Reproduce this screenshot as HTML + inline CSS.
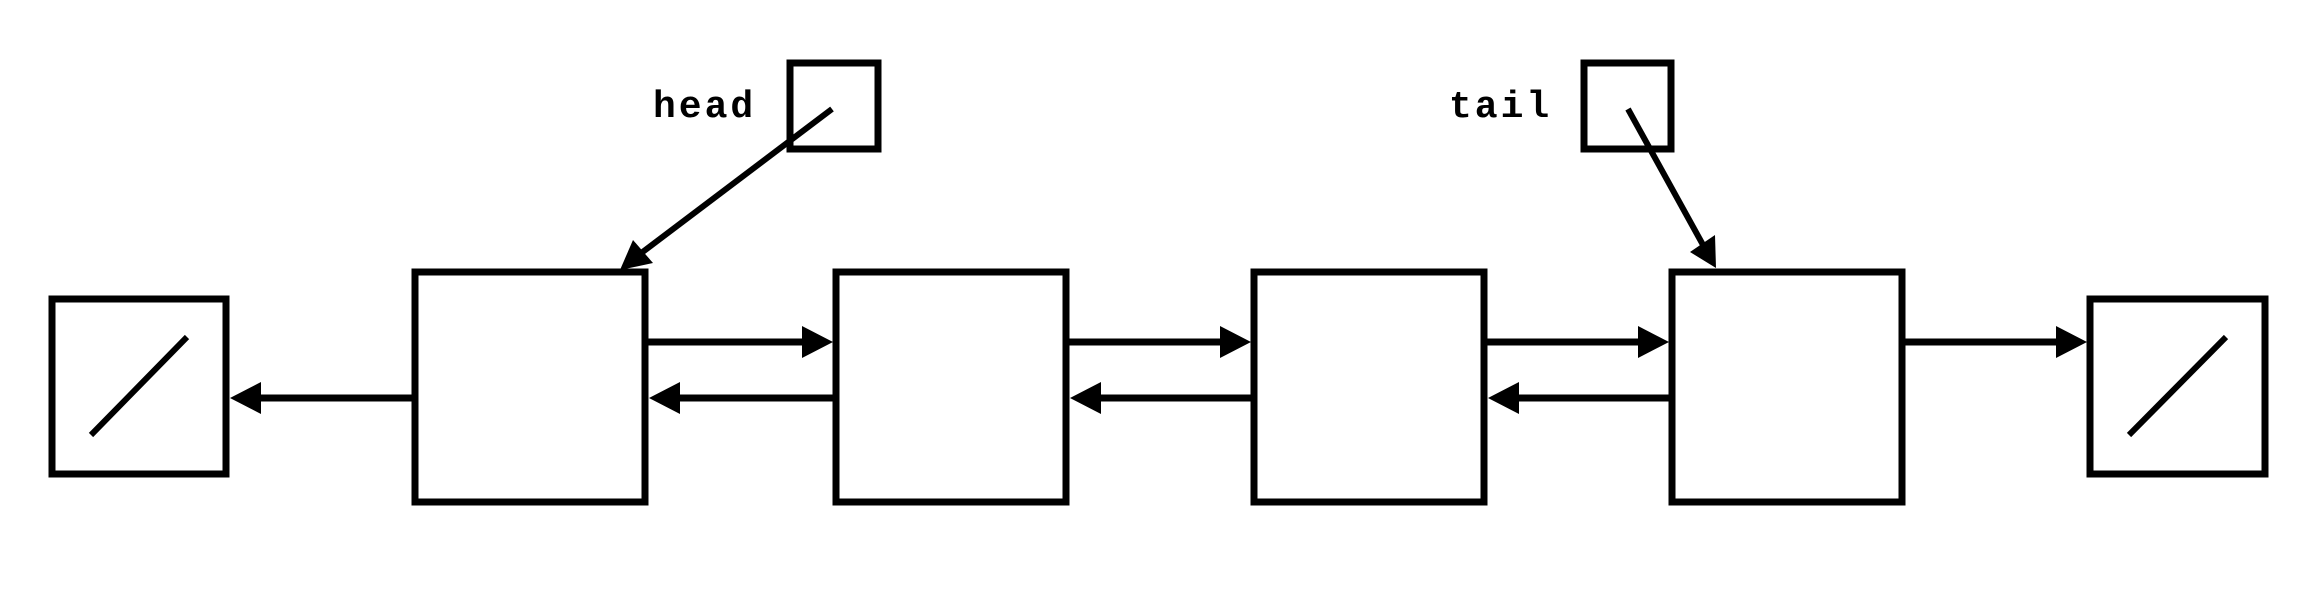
<!DOCTYPE html>
<html><head><style>body{margin:0;background:#fff}svg{display:block}</style></head>
<body>
<svg width="2324" height="602" xmlns="http://www.w3.org/2000/svg">
<g fill="none" stroke="#000" stroke-width="7">
<rect x="52" y="299" width="174" height="175"/>
<rect x="415" y="272" width="230" height="230"/>
<rect x="836" y="272" width="230" height="230"/>
<rect x="1254" y="272" width="230" height="230"/>
<rect x="1672" y="272" width="230" height="230"/>
<rect x="2090" y="299" width="175" height="175"/>
<rect x="790" y="63" width="88" height="86"/>
<rect x="1584" y="63" width="87" height="86"/>
<line x1="91" y1="435" x2="187" y2="337" stroke-width="6"/>
<line x1="2129" y1="435" x2="2226" y2="337" stroke-width="6"/>
<line x1="645" y1="342" x2="810" y2="342"/>
<line x1="1066" y1="342" x2="1230" y2="342"/>
<line x1="1484" y1="342" x2="1648" y2="342"/>
<line x1="1902" y1="342" x2="2066" y2="342"/>
<line x1="836" y1="398" x2="672" y2="398"/>
<line x1="1254" y1="398" x2="1090" y2="398"/>
<line x1="1672" y1="398" x2="1508" y2="398"/>
<line x1="415" y1="398" x2="252" y2="398"/>
<line x1="832" y1="109" x2="636" y2="257" stroke-width="6"/>
<line x1="1628" y1="109" x2="1708" y2="254" stroke-width="6"/>
</g>
<g fill="#000">
<polygon points="802,326 833,342 802,358"/>
<polygon points="1220,326 1251,342 1220,358"/>
<polygon points="1638,326 1669,342 1638,358"/>
<polygon points="2056,326 2087,342 2056,358"/>
<polygon points="649,398 680,382 680,414"/>
<polygon points="1070,398 1101,382 1101,414"/>
<polygon points="1488,398 1519,382 1519,414"/>
<polygon points="230,398 261,382 261,414"/>
<polygon points="620,270 633,240 653,263"/>
<polygon points="1716,268 1690,252 1715,235"/>
</g>
<g font-family="Liberation Mono, monospace" font-weight="bold" font-size="38">
<text x="653" y="117" letter-spacing="3">head</text>
<text x="1449" y="117" letter-spacing="3">tail</text>
</g>
</svg>
</body></html>
